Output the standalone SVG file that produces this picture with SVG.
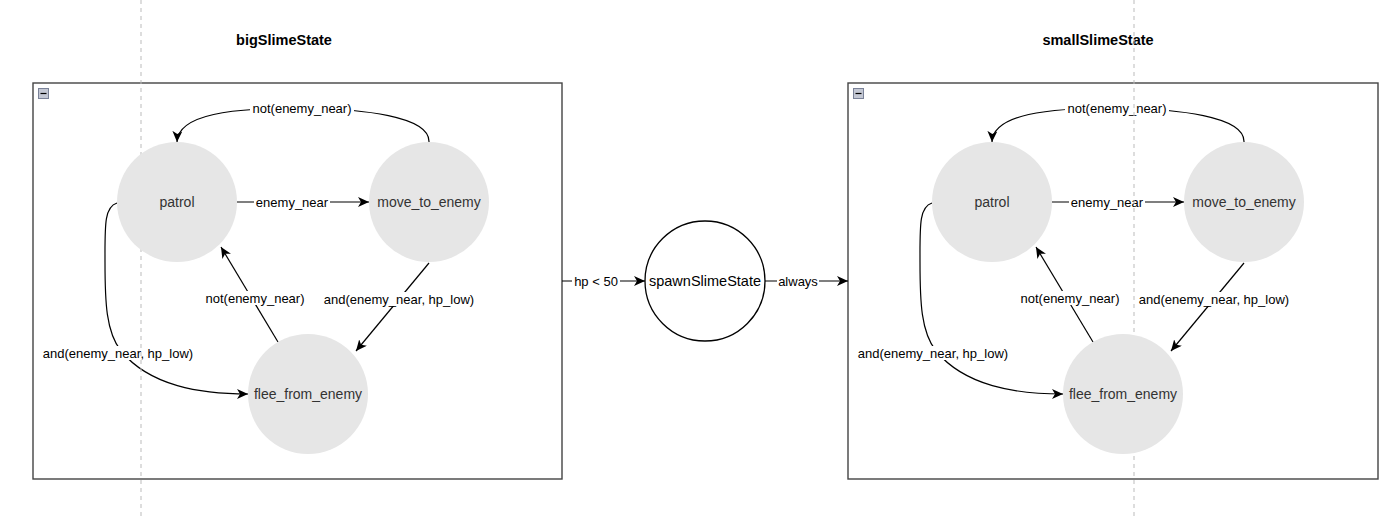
<svg xmlns="http://www.w3.org/2000/svg" width="1400" height="517" viewBox="0 0 1400 517">
<defs>
<marker id="arr" markerUnits="userSpaceOnUse" markerWidth="12" markerHeight="10" refX="11" refY="5" orient="auto" viewBox="0 0 12 10">
<path d="M0,0 L11,5 L0,10 L3,5 Z" fill="#000"/>
</marker>
</defs>
<style>
.cont{fill:#fff;stroke:#444;stroke-width:1.4}
.title{font-family:"Liberation Sans",Arial,sans-serif;font-size:14.5px;font-weight:bold;fill:#000;text-anchor:middle}
.state{fill:#e6e6e6;stroke:none}
.spawn{fill:#fff;stroke:#000;stroke-width:1.3}
.nl{font-family:"Liberation Sans",Arial,sans-serif;font-size:14px;fill:#333;text-anchor:middle;dominant-baseline:central}
.sl{font-family:"Liberation Sans",Arial,sans-serif;font-size:14.5px;fill:#000;text-anchor:middle;dominant-baseline:central}
.edge{fill:none;stroke:#000;stroke-width:1.2;marker-end:url(#arr)}
.el{font-family:"Liberation Sans",Arial,sans-serif;font-size:13px;fill:#000;text-anchor:middle;dominant-baseline:central}
.lbg{fill:#fff}
.guide{stroke:#bbb;stroke-width:1;stroke-dasharray:4,4}
.icon{fill:#c4c8d4;stroke:#7a8298;stroke-width:1}
</style>
<rect width="1400" height="517" fill="#fff"/>

<g id="bigSlimeState">
<rect class="cont" x="33" y="83" width="529" height="396"/>
<text class="title" x="284" y="45">bigSlimeState</text>
<rect class="icon" x="38.5" y="88.5" width="10" height="10"/>
<line x1="40.5" y1="93.5" x2="46.5" y2="93.5" stroke="#000" stroke-width="1.2"/>
</g>
<g id="smallSlimeState">
<rect class="cont" x="848" y="83" width="530" height="396"/>
<text class="title" x="1098" y="45">smallSlimeState</text>
<rect class="icon" x="853.5" y="88.5" width="10" height="10"/>
<line x1="855.5" y1="93.5" x2="861.5" y2="93.5" stroke="#000" stroke-width="1.2"/>
</g>

<g id="connectors">
<path class="edge" d="M237,202 L369,202"/>
<path class="edge" d="M429,142 C430,116 362,109 302,108 C232,108 178,114 177,142"/>
<path class="edge" d="M429,263 L356,351"/>
<path class="edge" d="M278,342 L221,247"/>
<path class="edge" d="M117,203 C104,207 105,226 105,262 C105,302 106,332 121,351 C150,386 200,394 248,394"/>
<path class="edge" d="M562,281 L645,281"/>
<path class="edge" d="M765,281 L848,281"/>
<path class="edge" d="M1052,202 L1184,202"/>
<path class="edge" d="M1244,142 C1245,116 1177,109 1117,108 C1047,108 993,114 992,142"/>
<path class="edge" d="M1244,263 L1171,351"/>
<path class="edge" d="M1093,342 L1036,247"/>
<path class="edge" d="M932,203 C919,207 920,226 920,262 C920,302 921,332 936,351 C965,386 1015,394 1063,394"/>

<rect class="lbg" x="254" y="195" width="76" height="14"/>
<text class="el" x="292" y="202">enemy_near</text>
<rect class="lbg" x="250" y="101" width="104" height="14"/>
<text class="el" x="302" y="108">not(enemy_near)</text>
<rect class="lbg" x="322" y="292" width="154" height="14"/>
<text class="el" x="399" y="299">and(enemy_near, hp_low)</text>
<rect class="lbg" x="203" y="291" width="104" height="14"/>
<text class="el" x="255" y="298">not(enemy_near)</text>
<rect class="lbg" x="41" y="346" width="154" height="14"/>
<text class="el" x="118" y="353">and(enemy_near, hp_low)</text>

<rect class="lbg" x="572" y="274" width="48" height="14"/>
<text class="el" x="596" y="281">hp &lt; 50</text>
<rect class="lbg" x="777" y="274" width="42" height="14"/>
<text class="el" x="798" y="281">always</text>

<rect class="lbg" x="1069" y="195" width="76" height="14"/>
<text class="el" x="1107" y="202">enemy_near</text>
<rect class="lbg" x="1065" y="101" width="104" height="14"/>
<text class="el" x="1117" y="108">not(enemy_near)</text>
<rect class="lbg" x="1137" y="292" width="154" height="14"/>
<text class="el" x="1214" y="299">and(enemy_near, hp_low)</text>
<rect class="lbg" x="1018" y="291" width="104" height="14"/>
<text class="el" x="1070" y="298">not(enemy_near)</text>
<rect class="lbg" x="856" y="346" width="154" height="14"/>
<text class="el" x="933" y="353">and(enemy_near, hp_low)</text>
</g>

<g id="guides">
<line class="guide" x1="141" y1="0" x2="141" y2="517"/>
<line class="guide" x1="1134" y1="0" x2="1134" y2="517"/>
</g>

<g id="patrol_big"><circle class="state" cx="177" cy="202" r="60"/><text class="nl" x="177" y="202">patrol</text></g>
<g id="move_to_enemy_big"><circle class="state" cx="429" cy="202" r="60"/><text class="nl" x="429" y="202">move_to_enemy</text></g>
<g id="flee_from_enemy_big"><circle class="state" cx="308" cy="394" r="60"/><text class="nl" x="308" y="394">flee_from_enemy</text></g>

<g id="spawnSlimeState"><circle class="spawn" cx="705" cy="281" r="60"/><text class="sl" x="705" y="281">spawnSlimeState</text></g>

<g id="patrol_small"><circle class="state" cx="992" cy="202" r="60"/><text class="nl" x="992" y="202">patrol</text></g>
<g id="move_to_enemy_small"><circle class="state" cx="1244" cy="202" r="60"/><text class="nl" x="1244" y="202">move_to_enemy</text></g>
<g id="flee_from_enemy_small"><circle class="state" cx="1123" cy="394" r="60"/><text class="nl" x="1123" y="394">flee_from_enemy</text></g>
</svg>
